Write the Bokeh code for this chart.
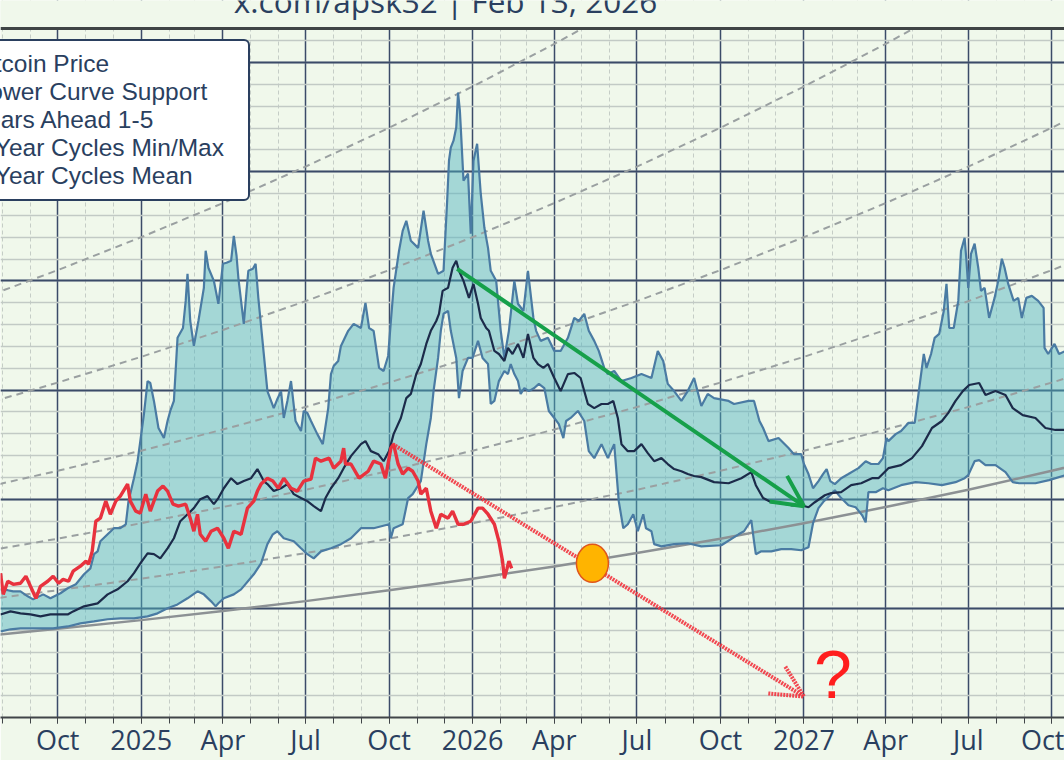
import numpy as np
import pandas as pd
from bokeh.plotting import figure
from bokeh.models import (Range1d, FixedTicker, Span, Label, Legend, LegendItem,
                          Arrow, OpenHead, BoxAnnotation)
from bokeh.embed import file_html
from bokeh.resources import INLINE

# ---------------- data ----------------
# day offsets are counted from BASE_DATE, prices in thousands of USD
BASE_DATE = "2024-07-30"

# Bitcoin price (red)
btc_days = [0, 3, 8, 14, 22, 28, 33, 39, 44, 52,
            58, 64, 69, 75, 80, 88, 94, 97, 101, 105,
            110, 116, 121, 127, 132, 140, 143, 149, 154, 160,
            165, 173, 179, 184, 190, 196, 204, 209, 213, 217,
            220, 226, 232, 239, 246, 251, 257, 265, 272, 279,
            283, 287, 294, 300, 306, 312, 320, 327, 334, 342,
            347, 353, 362, 367, 375, 378, 380, 386, 395, 405,
            411, 419, 424, 430, 433, 438, 443, 449, 454, 460,
            463, 469, 474, 480, 485, 493, 498, 504, 510, 518,
            526, 531, 537, 544, 549, 553, 555, 558, 560, 563]
btc_k = [66.1, 56.4, 62.4, 61.0, 61.5, 64.7, 60.1, 54.6, 60.1, 62.4,
         64.7, 61.5, 63.3, 62.4, 67.0, 69.3, 71.6, 70.2, 76.1, 89.9,
         91.3, 99.1, 93.1, 99.1, 101.4, 106.9, 99.1, 94.5, 93.6, 102.3,
         94.5, 103.7, 106.0, 103.7, 97.7, 96.8, 97.7, 91.3, 85.3, 93.1,
         83.9, 80.7, 85.3, 86.7, 82.1, 77.5, 85.3, 83.9, 95.9, 99.1,
         103.7, 106.9, 109.6, 108.3, 105.0, 109.6, 105.0, 103.7, 108.3, 109.2,
         118.8, 117.4, 118.8, 114.2, 117.4, 123.4, 116.1, 116.1, 109.6, 112.8,
         117.4, 116.1, 109.6, 123.4, 125.2, 116.1, 111.5, 114.2, 112.8, 108.3,
         102.3, 105.0, 94.5, 86.7, 93.1, 91.3, 94.5, 88.5, 88.5, 89.9,
         95.9, 95.9, 93.1, 88.5, 80.7, 71.6, 63.8, 68.3, 71.6, 68.3]

# 4-year cycles max (upper edge of band)
max_days = [0, 8, 14, 22, 30, 36, 47, 55, 66, 74,
            83, 92, 99, 103, 107, 110, 118, 125, 132, 138,
            141, 147, 151, 154, 158, 162, 165, 169, 174, 180,
            184, 187, 191, 195, 201, 204, 206, 209, 213, 218,
            224, 226, 229, 235, 240, 245, 249, 254, 257, 260,
            262, 268, 271, 273, 278, 281, 284, 290, 294, 301,
            305, 309, 312, 316, 320, 325, 331, 334, 338, 342,
            349, 355, 361, 364, 367, 372, 375, 383, 389, 397,
            402, 406, 411, 417, 422, 427, 430, 433, 439, 443,
            447, 452, 460, 466, 471, 474, 482, 488, 492, 494,
            496, 499, 502, 504, 506, 507, 510, 515, 518, 521,
            525, 529, 533, 537, 540, 546, 551, 555, 560, 566,
            570, 576, 581, 587, 590, 595, 603, 610, 617, 625,
            632, 637, 643, 648, 654, 659, 665, 669, 676, 684,
            695, 706, 717, 724, 730, 735, 742, 750, 757, 764,
            772, 779, 786, 802, 808, 824, 830, 836, 840, 846,
            857, 868, 874, 882, 885, 890, 895, 901, 906, 910,
            914, 919, 926, 934, 945, 953, 959, 967, 972, 976,
            978, 986, 992, 1000, 1007, 1012, 1017, 1020, 1025, 1029,
            1034, 1039, 1042, 1045, 1050, 1055, 1058, 1062, 1064, 1066,
            1069, 1073, 1077, 1080, 1084, 1089, 1095, 1099, 1103, 1106,
            1110, 1116, 1121, 1125, 1130, 1136, 1143, 1149, 1150, 1154,
            1161, 1166, 1173]
max_k = [58.7, 58.3, 57.8, 57.8, 55.5, 54.1, 56.4, 54.6, 56.9, 59.2,
         61.0, 65.6, 68.3, 74.8, 76.1, 80.7, 83.9, 86.7, 86.7, 88.5,
         99.1, 109.6, 117.4, 126.6, 139.0, 154.1, 153.2, 145.0, 132.6, 128.0,
         135.8, 140.4, 145.0, 173.9, 178.4, 190.8, 203.2, 181.6, 170.2, 181.6,
         196.8, 213.8, 206.0, 200.0, 189.5, 207.8, 208.3, 209.2, 220.6, 211.5,
         201.4, 180.3, 195.4, 204.6, 205.5, 207.8, 192.2, 166.5, 149.5, 141.7,
         145.9, 149.5, 137.2, 145.0, 154.1, 135.8, 131.2, 140.4, 139.5, 135.8,
         129.8, 125.2, 141.7, 157.3, 161.0, 163.3, 170.2, 177.1, 180.3, 178.4,
         189.9, 178.4, 177.1, 160.1, 158.7, 165.6, 181.6, 196.8, 213.8, 222.9,
         227.5, 218.4, 215.1, 232.1, 218.4, 212.4, 203.2, 204.6, 236.7, 255.0,
         261.0, 264.2, 270.2, 286.2, 278.0, 270.2, 245.9, 249.1, 221.6, 255.0,
         262.8, 239.9, 224.3, 215.1, 204.6, 200.0, 177.1, 164.7, 177.1, 200.0,
         189.5, 186.2, 204.6, 183.0, 177.1, 172.5, 173.9, 167.9, 167.9, 173.9,
         183.0, 181.6, 184.9, 177.1, 172.5, 167.9, 160.1, 157.3, 158.7, 154.1,
         155.5, 157.3, 155.5, 167.9, 163.3, 152.8, 149.5, 145.0, 149.5, 155.5,
         142.7, 148.2, 146.3, 145.0, 143.6, 145.0, 145.0, 135.8, 132.6, 126.6,
         128.0, 123.4, 120.6, 120.6, 116.1, 111.5, 105.0, 108.3, 111.5, 113.8,
         108.3, 106.9, 109.6, 111.5, 114.2, 117.4, 116.1, 116.1, 118.8, 128.0,
         126.6, 129.8, 131.2, 134.9, 134.9, 150.9, 166.5, 160.1, 166.5, 173.9,
         175.7, 186.2, 198.6, 178.4, 178.4, 190.8, 213.8, 219.7, 209.2, 196.8,
         212.4, 217.0, 206.0, 195.4, 196.8, 183.0, 192.2, 200.0, 210.1, 206.0,
         198.6, 190.8, 192.2, 183.0, 192.2, 193.1, 190.8, 187.6, 169.3, 166.5,
         171.1, 166.5, 167.9]

# 4-year cycles min (lower edge of band)
min_days = [0, 11, 22, 36, 47, 58, 74, 88, 103, 118,
            132, 147, 162, 173, 184, 195, 206, 217, 224, 232,
            237, 240, 246, 257, 265, 279, 287, 294, 300, 305,
            312, 323, 331, 338, 345, 353, 364, 375, 386, 397,
            411, 428, 430, 433, 443, 449, 454, 463, 469, 474,
            477, 482, 485, 488, 493, 496, 502, 505, 509, 515,
            520, 526, 531, 537, 540, 544, 549, 555, 559, 562,
            566, 570, 573, 577, 582, 588, 593, 599, 604, 610,
            615, 620, 623, 628, 636, 643, 648, 654, 662, 669,
            676, 681, 686, 691, 697, 702, 708, 711, 717, 720,
            728, 742, 757, 772, 794, 813, 819, 827, 830, 832,
            838, 849, 860, 871, 882, 890, 895, 901, 907, 915,
            919, 926, 934, 942, 949, 953, 956, 964, 972, 978,
            992, 1008, 1022, 1037, 1052, 1062, 1066, 1073, 1078, 1085,
            1096, 1107, 1115, 1122, 1140, 1155, 1173]
min_k = [39.4, 40.4, 40.8, 40.8, 40.8, 40.8, 41.7, 43.1, 44.0, 45.0,
         45.4, 45.4, 46.3, 47.7, 50.0, 51.8, 54.6, 57.8, 56.4, 53.2,
         50.9, 52.3, 54.6, 56.4, 58.7, 65.6, 70.6, 79.4, 83.9, 85.3,
         82.1, 80.7, 77.5, 74.8, 72.9, 76.1, 77.5, 79.4, 82.1, 86.7,
         86.7, 88.5, 82.1, 86.7, 88.5, 100.5, 102.3, 108.3, 125.2, 137.2,
         149.5, 164.7, 177.1, 184.9, 186.2, 177.1, 164.7, 146.3, 158.7, 164.7,
         164.7, 172.5, 164.7, 161.9, 143.6, 145.0, 154.1, 158.7, 157.3, 161.9,
         157.3, 154.1, 148.2, 150.9, 149.5, 150.9, 152.8, 150.9, 140.4, 137.2,
         134.4, 128.0, 135.8, 137.2, 140.4, 135.8, 122.0, 118.8, 125.2, 118.8,
         125.2, 99.1, 86.7, 88.5, 93.1, 85.3, 93.1, 86.7, 85.3, 79.4,
         78.4, 79.4, 79.8, 78.4, 78.9, 83.9, 85.3, 90.4, 80.7, 74.8,
         76.1, 76.1, 77.1, 77.1, 76.6, 78.0, 89.0, 95.9, 99.1, 102.3,
         104.1, 100.5, 97.2, 96.3, 92.7, 89.4, 103.2, 103.2, 105.0, 104.1,
         106.4, 107.8, 107.3, 106.4, 107.8, 109.6, 111.0, 117.4, 117.9, 115.6,
         115.6, 112.4, 107.8, 107.3, 107.3, 108.7, 111.0]

# 4-year cycles mean
mean_days = [0, 11, 22, 33, 44, 55, 64, 74, 80, 92,
             107, 118, 129, 140, 147, 154, 162, 169, 176, 184,
             191, 198, 206, 213, 220, 228, 235, 240, 246, 254,
             261, 268, 276, 283, 290, 294, 301, 309, 316, 323,
             331, 338, 345, 353, 358, 364, 372, 378, 386, 397,
             402, 408, 416, 422, 428, 433, 441, 447, 452, 458,
             463, 469, 474, 480, 483, 487, 493, 498, 502, 505,
             510, 516, 521, 526, 529, 535, 538, 544, 549, 555,
             559, 564, 570, 576, 581, 587, 592, 598, 603, 610,
             617, 625, 632, 639, 647, 654, 662, 669, 675, 680,
             684, 691, 698, 706, 713, 720, 728, 735, 742, 750,
             757, 764, 772, 786, 802, 816, 827, 832, 840, 849,
             860, 871, 882, 890, 897, 908, 915, 926, 937, 948,
             960, 967, 978, 992, 1004, 1015, 1026, 1037, 1044, 1052,
             1060, 1067, 1078, 1085, 1096, 1107, 1115, 1126, 1140, 1151,
             1162, 1173]
mean_k = [47.2, 48.6, 47.7, 47.2, 46.3, 47.2, 47.2, 47.2, 48.6, 50.9,
          52.3, 56.4, 58.7, 62.4, 66.1, 70.6, 75.2, 74.8, 72.9, 77.5,
          82.1, 89.9, 93.1, 95.9, 100.0, 101.4, 97.7, 100.5, 105.0, 109.6,
          106.9, 108.3, 109.6, 113.8, 108.3, 106.9, 103.7, 105.0, 106.9, 102.3,
          100.5, 99.1, 96.8, 94.5, 100.5, 105.0, 109.6, 114.2, 119.7, 125.2,
          126.6, 122.0, 120.6, 117.4, 122.0, 129.8, 137.2, 146.3, 148.2, 157.3,
          161.9, 171.1, 177.1, 181.6, 184.9, 195.4, 196.8, 206.0, 209.2, 204.6,
          200.0, 192.2, 198.6, 189.5, 183.0, 178.4, 177.1, 167.9, 166.5, 163.3,
          169.3, 166.5, 171.1, 164.7, 175.7, 164.7, 161.9, 160.1, 161.9, 155.5,
          149.5, 157.3, 157.8, 155.5, 143.6, 141.7, 143.6, 143.6, 145.0, 137.2,
          125.2, 122.0, 122.0, 125.2, 121.1, 117.4, 118.8, 116.1, 113.8, 112.8,
          111.5, 110.6, 110.1, 107.8, 107.3, 109.6, 112.4, 106.4, 100.5, 98.6,
          98.2, 97.2, 97.2, 96.3, 98.6, 101.8, 102.8, 103.2, 106.4, 107.3,
          109.6, 109.6, 114.2, 115.6, 118.8, 124.3, 132.6, 135.8, 139.5, 145.0,
          149.5, 152.3, 153.2, 147.7, 149.5, 147.7, 141.7, 138.5, 137.2, 132.6,
          131.7, 131.7]

# Power curve support (read at quarter starts)
support_dates = ["2024-07-01", "2024-10-01", "2025-01-01", "2025-04-01", "2025-07-01",
                 "2025-10-01", "2026-01-01", "2026-04-01", "2026-07-01", "2026-10-01",
                 "2027-01-01", "2027-04-01", "2027-07-01", "2027-10-01", "2028-01-01",
                 "2028-04-01", "2028-07-01", "2028-10-01", "2029-01-01", "2029-04-01",
                 "2029-07-01", "2029-10-01", "2030-01-01", "2030-04-01", "2030-07-01",
                 "2030-10-01", "2031-01-01", "2031-04-01", "2031-07-01", "2031-10-01",
                 "2032-01-01"]
support_k = [36.9, 40.6, 44.6, 48.8, 53.3,
             58.3, 63.6, 69.2, 75.3, 81.9,
             89.0, 96.4, 104.3, 113.0, 122.2,
             131.9, 142.2, 153.4, 165.2, 177.5,
             190.7, 204.9, 220.0, 235.6, 252.3,
             270.1, 289.0, 308.5, 329.4, 351.7,
             375.2]
years_ahead = [1, 2, 3, 4, 5]

# x axis ticks
tick_dates = ["2024-10-01", "2025-01-01", "2025-04-01", "2025-07-01", "2025-10-01",
              "2026-01-01", "2026-04-01", "2026-07-01", "2026-10-01", "2027-01-01",
              "2027-04-01", "2027-07-01", "2027-10-01"]
tick_labels = ["Oct", "2025", "Apr", "Jul", "Oct", "2026", "Apr", "Jul", "Oct", "2027",
               "Apr", "Jul", "Oct"]
y_major_k = [0, 50, 100, 150, 200, 250, 300]
y_minor_k = [v for v in range(0, 320, 10)]

X_START, X_END = "2024-07-30", "2027-10-15"
Y_TOP_K = 315.6          # top edge of the plotting area
Y_CANVAS_TOP_K = 328.4   # value at the very top of the picture (title strip)

# annotations (date, price k$)
green_arrow = (("2025-12-15", 205.5), ("2027-01-01", 96.8))
red_arrow = (("2025-10-05", 125.2), ("2027-01-01", 9.6))
orange_mark = ("2026-05-13", 70.6)
question_mark = ("2027-02-02", 19.7)
title_text = "x.com/apsk32 | Feb 13, 2026"

# ---------------- styling ----------------
BG = "#f0f8eb"
INK = "#2a3f5f"
RED = "#e8323e"
BAND_LINE = "#4a7ba3"
BAND_FILL = "#4fb3bf"
MEAN = "#1c2b4a"
SUPPORT = "#8c9194"
DASH = "#9aa0a1"
GREEN = "#16a04a"
FONT = "Open Sans"
LEGEND_FONT = "Liberation Sans"


def to_dates(days):
    return (pd.Timestamp(BASE_DATE) + pd.to_timedelta(np.asarray(days), unit="D")).values


def ms(d):
    return pd.Timestamp(d).value / 1e6


p = figure(width=1064, height=760, x_axis_type="datetime",
           output_backend="svg", toolbar_location=None,
           x_range=Range1d(pd.Timestamp(X_START), pd.Timestamp(X_END)),
           y_range=Range1d(0, Y_CANVAS_TOP_K),
           min_border_left=0, min_border_right=0, min_border_top=0,
           background_fill_color=BG, border_fill_color=BG)
p.outline_line_color = None

# grids
month_ticks = [ms(d) for d in pd.date_range("2024-08-01", "2027-10-01", freq="MS")]
major_ticks = [int(ms(d)) for d in tick_dates]
xt = FixedTicker(ticks=major_ticks, minor_ticks=month_ticks)
p.xaxis.ticker = xt
p.xgrid.ticker = xt
p.xaxis.major_label_overrides = {t: lab for t, lab in zip(major_ticks, tick_labels)}
yt = FixedTicker(ticks=y_major_k, minor_ticks=y_minor_k)
p.yaxis.ticker = yt
p.ygrid.ticker = yt
p.yaxis.visible = False

p.xgrid.grid_line_color = "#3b4b68"
p.xgrid.grid_line_width = 1.5
p.xgrid.minor_grid_line_color = "#c5cdc6"
p.xgrid.minor_grid_line_dash = "4 3"
p.xgrid.minor_grid_line_width = 1
p.ygrid.grid_line_color = "#3b4b68"
p.ygrid.grid_line_width = 1.8
p.ygrid.minor_grid_line_color = "#c2cac5"
p.ygrid.minor_grid_line_width = 1.5

ax = p.xaxis[0]
ax.axis_line_color = "#404548"
ax.axis_line_width = 2
ax.major_tick_line_color = "#404548"
ax.minor_tick_line_color = "#404548"
ax.major_tick_out = 6
ax.major_tick_in = 0
ax.minor_tick_out = 6
ax.minor_tick_in = 0
ax.major_label_standoff = -3
ax.major_label_text_font = FONT
ax.major_label_text_font_size = "27px"
ax.major_label_text_color = INK

# band fill
band_x = np.concatenate([to_dates(max_days), to_dates(min_days)[::-1]])
band_y = np.concatenate([np.asarray(max_k), np.asarray(min_k)[::-1]])
band_r = p.patch(band_x, band_y, fill_color=BAND_FILL, fill_alpha=0.47, line_color=None)

# support and years-ahead curves
sup_dt = pd.to_datetime(support_dates)
dash_rs = []
for k in years_ahead:
    r = p.line(sup_dt - pd.DateOffset(years=k), support_k, line_color=DASH,
               line_width=2, line_dash="7 5")
    dash_rs.append(r)
sup_r = p.line(sup_dt, support_k, line_color=SUPPORT, line_width=2.5)

# band edges, mean, price
max_r = p.line(to_dates(max_days), max_k, line_color=BAND_LINE, line_width=2.2)
min_r = p.line(to_dates(min_days), min_k, line_color=BAND_LINE, line_width=2.2)
mean_r = p.line(to_dates(mean_days), mean_k, line_color=MEAN, line_width=2.2)
btc_r = p.line(to_dates(btc_days), btc_k, line_color=RED, line_width=3.4)

# strip above the plotting area (holds the title, cut by the picture top) and the top border
p.add_layout(BoxAnnotation(bottom=Y_TOP_K, fill_color=BG, fill_alpha=1, line_color=None))
p.add_layout(Span(location=Y_TOP_K, dimension="width", line_color="#3f4445", line_width=3))
p.add_layout(Label(x=445, y=717, x_units="screen", y_units="screen", text=title_text,
                   text_align="center", text_baseline="alphabetic",
                   text_font=FONT, text_font_size="31.5px", text_color=INK))

# arrows
(gs, gsy), (ge, gey) = green_arrow
p.add_layout(Arrow(end=OpenHead(size=31, line_color=GREEN, line_width=4),
                   x_start=ms(gs), y_start=gsy, x_end=ms(ge), y_end=gey,
                   line_color=GREEN, line_width=4))
(rs, rsy), (re_, rey) = red_arrow
p.add_layout(Arrow(end=OpenHead(size=32, line_color="#f2343f", line_width=4,
                                line_dash="2 1", line_alpha=0.9),
                   x_start=ms(rs), y_start=rsy, x_end=ms(re_), y_end=rey,
                   line_color="#f2343f", line_width=4, line_dash="2 1", line_alpha=0.9))

# orange marker
orange_r = p.ellipse(x=[pd.Timestamp(orange_mark[0])], y=[orange_mark[1]], width=32, height=38,
                     width_units="screen", height_units="screen",
                     fill_color="#ffb400", line_color="#e0561c", line_width=1.5)
orange_r.level = "overlay"

# question mark
p.add_layout(Label(x=ms(question_mark[0]), y=question_mark[1], text="?",
                   text_align="center", text_baseline="middle",
                   text_font="Liberation Sans", text_font_size="68px",
                   text_color="#ff1e1e"))

legend = Legend(items=[
    LegendItem(label="Bitcoin Price", renderers=[btc_r]),
    LegendItem(label="Power Curve Support", renderers=[sup_r]),
    LegendItem(label="Years Ahead 1-5", renderers=[dash_rs[0]]),
    LegendItem(label="4-Year Cycles Min/Max", renderers=[band_r, max_r]),
    LegendItem(label="4-Year Cycles Mean", renderers=[mean_r]),
], location=(-86, 516), orientation="vertical",
    label_text_font=LEGEND_FONT, label_text_font_size="24.5px", label_text_color=INK,
    border_line_color=INK, border_line_width=2, border_line_alpha=1,
    background_fill_color="white", background_fill_alpha=1,
    padding=9, spacing=0, glyph_width=40, glyph_height=27, label_height=27,
    label_width=266, label_standoff=8, margin=0)
if "border_radius" in Legend.properties():
    legend.border_radius = 6
p.add_layout(legend)

open("out.html", "w").write(file_html(p, INLINE))
